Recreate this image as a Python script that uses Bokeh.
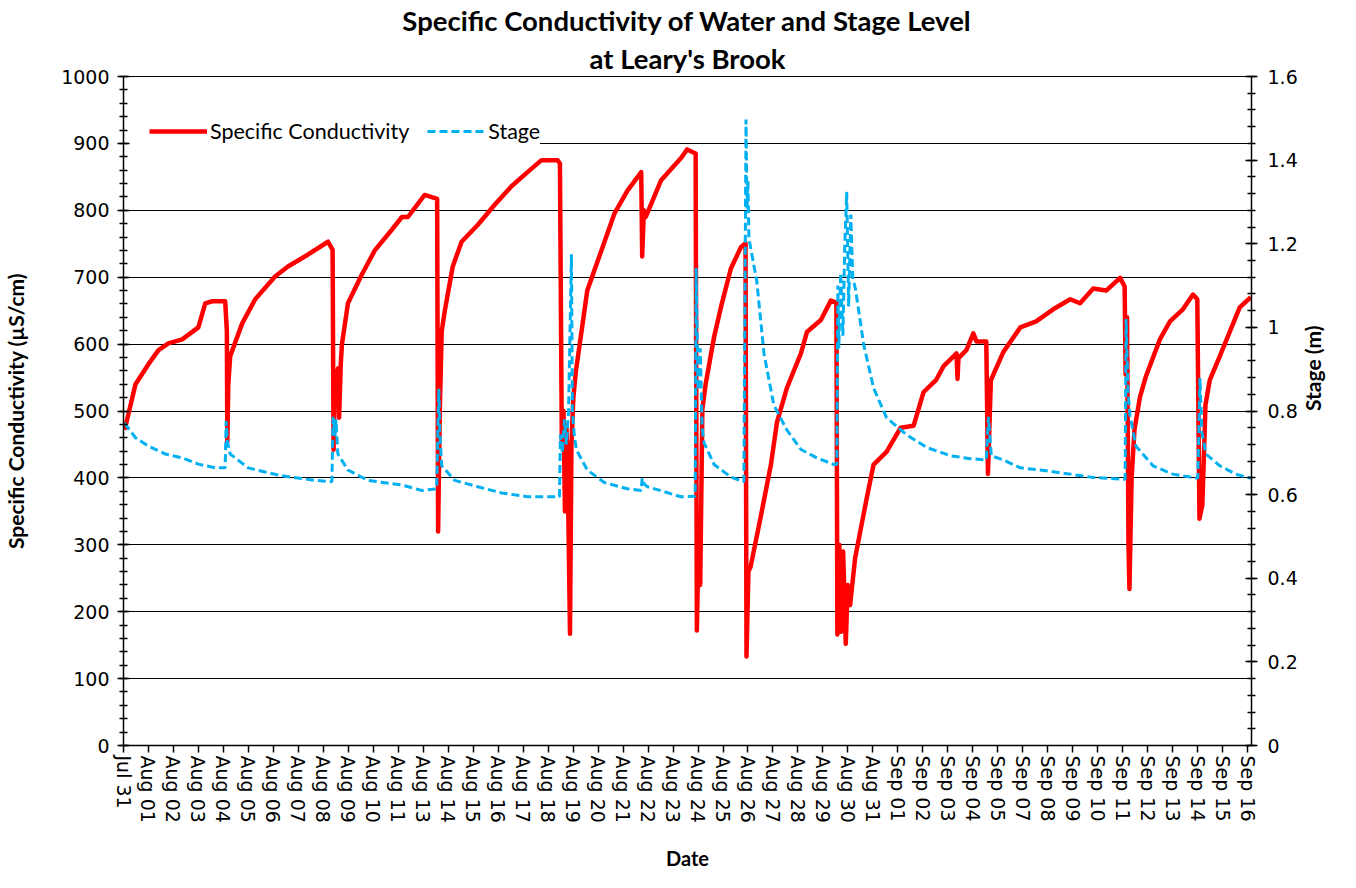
import math
from bokeh.plotting import figure
from bokeh.models import (Range1d, LinearAxis, FixedTicker, SingleIntervalTicker,
                          Legend, LegendItem, Title, BoxAnnotation)
from bokeh.embed import file_html
from bokeh.resources import INLINE

# ---- data: days since Jul 31 00:00 ----
cond_day = [0.57, 1.02, 1.56, 1.98, 2.39, 2.97, 3.64, 3.93, 4.22, 4.76, 4.83, 4.85, 4.89, 4.97,
            5.47, 6.01, 6.84, 7.38, 8.22, 9.05, 9.24, 9.28, 9.34, 9.40, 9.47, 9.51, 9.58, 9.63,
            9.88, 10.46, 11.00, 11.71, 12.13, 12.38, 13.08, 13.60, 13.64, 13.71, 13.75, 13.79,
            13.92, 14.25, 14.62, 15.29, 15.99, 16.70, 17.37, 17.95, 18.62, 18.72, 18.80, 18.87,
            18.93, 18.99, 19.05, 19.14, 19.20, 19.28, 19.38, 19.86, 20.45, 20.99, 21.53, 22.11,
            22.15, 22.22, 22.30, 22.94, 23.77, 24.02, 24.38, 24.43, 24.50, 24.57, 24.66, 24.80,
            25.15, 25.44, 25.85, 26.27, 26.46, 26.50, 26.58, 26.67, 27.10, 27.52, 27.77, 28.18,
            28.77, 29.02, 29.60, 30.02, 30.25, 30.29, 30.37, 30.45, 30.53, 30.64, 30.72, 30.82,
            31.03, 31.51, 31.80, 32.34, 32.93, 33.47, 33.88, 34.42, 34.72, 35.26, 35.30, 35.34,
            35.67, 35.96, 36.09, 36.50, 36.57, 36.69, 37.21, 37.92, 38.58, 39.29, 40.00, 40.41,
            40.96, 41.50, 42.08, 42.27, 42.31, 42.37, 42.43, 42.47, 42.56, 42.68, 42.91, 43.16,
            43.74, 44.16, 44.70, 45.12, 45.30, 45.39, 45.51, 45.64, 45.82, 46.24, 46.66, 47.07,
            47.53]
cond_value = [472, 540, 570, 591, 601, 607, 625, 661, 664, 664, 620, 454, 540, 582,
              631, 667, 701, 716, 734, 753, 741, 442, 560, 510, 564, 490, 570, 600,
              661, 704, 740, 771, 790, 790, 823, 817, 320, 500, 560, 619,
              650, 716, 753, 778, 808, 836, 857, 875, 875, 870, 450, 500,
              350, 480, 400, 167, 450, 520, 558, 680, 740, 795, 829, 857,
              731, 800, 790, 845, 878, 891, 885, 172, 300, 240, 503, 541,
              611, 656, 713, 745, 751, 133, 260, 267, 343, 420, 483, 534,
              586, 618, 636, 665, 662, 166, 300, 170, 290, 152, 240, 210,
              280, 369, 420, 439, 475, 478, 528, 547, 567, 586, 548, 579,
              591, 616, 604, 604, 406, 546, 588, 625, 634, 652, 667, 661,
              683, 680, 699, 686, 555, 640, 300, 234, 400, 472, 521, 552,
              607, 634, 652, 674, 667, 339, 360, 509, 546, 582, 619, 655,
              670]

stage_day = [0.56, 1.02, 1.56, 2.27, 2.97, 3.64, 4.35, 4.76, 4.80, 4.85, 4.97, 5.72, 6.43,
             7.13, 8.51, 9.21, 9.26, 9.34, 9.38, 9.46, 9.88, 10.71, 12.13, 12.96, 13.58, 13.67,
             13.71, 13.79, 14.33, 15.29, 16.29, 17.37, 18.70, 18.74, 18.82, 18.91, 18.99, 19.08,
             19.20, 19.24, 19.32, 19.41, 19.86, 20.57, 21.53, 22.11, 22.15, 22.24, 22.36, 23.77,
             24.36, 24.40, 24.48, 24.57, 24.65, 24.73, 25.15, 25.85, 26.39, 26.44, 26.48, 26.52,
             26.56, 26.60, 26.93, 27.23, 27.64, 28.18, 28.77, 29.43, 30.14, 30.27, 30.31, 30.35,
             30.43, 30.52, 30.60, 30.68, 30.76, 30.85, 30.93, 31.05, 31.39, 31.80, 32.34, 33.18,
             34.01, 35.01, 35.84, 36.50, 36.59, 36.71, 37.21, 37.92, 39.00, 40.00, 40.96, 42.08,
             42.29, 42.33, 42.41, 42.49, 42.74, 43.45, 44.28, 45.32, 45.41, 45.49, 45.66, 46.24,
             46.90, 47.53]
stage_value = [0.771, 0.736, 0.716, 0.697, 0.688, 0.673, 0.664, 0.664, 0.776, 0.728, 0.697, 0.664, 0.654,
               0.645, 0.634, 0.631, 0.786, 0.740, 0.780, 0.697, 0.659, 0.634, 0.623, 0.610, 0.614, 0.853,
               0.750, 0.669, 0.634, 0.619, 0.604, 0.595, 0.595, 0.744, 0.700, 0.780, 0.720, 0.800,
               1.175, 0.800, 0.740, 0.707, 0.659, 0.629, 0.614, 0.610, 0.639, 0.625, 0.619, 0.595,
               0.596, 1.142, 0.850, 0.950, 0.760, 0.724, 0.672, 0.642, 0.631, 1.100, 1.497, 1.284,
               1.350, 1.213, 1.110, 0.937, 0.814, 0.755, 0.708, 0.688, 0.672, 0.672, 1.100, 0.950,
               1.130, 0.980, 1.200, 1.324, 1.050, 1.270, 1.120, 1.090, 0.958, 0.855, 0.784, 0.743,
               0.713, 0.693, 0.686, 0.683, 0.786, 0.693, 0.683, 0.664, 0.657, 0.649, 0.641, 0.637,
               0.637, 1.020, 0.850, 0.790, 0.716, 0.669, 0.649, 0.639, 0.879, 0.750, 0.697, 0.669,
               0.649, 0.639]

date_labels = ["Jul 31", "Aug 01", "Aug 02", "Aug 03", "Aug 04", "Aug 05", "Aug 06", "Aug 07",
               "Aug 08", "Aug 09", "Aug 10", "Aug 11", "Aug 13", "Aug 14", "Aug 15", "Aug 16",
               "Aug 17", "Aug 18", "Aug 19", "Aug 20", "Aug 21", "Aug 22", "Aug 23", "Aug 24",
               "Aug 25", "Aug 26", "Aug 27", "Aug 28", "Aug 29", "Aug 30", "Aug 31", "Sep 01",
               "Sep 02", "Sep 03", "Sep 04", "Sep 05", "Sep 07", "Sep 08", "Sep 09", "Sep 10",
               "Sep 11", "Sep 12", "Sep 13", "Sep 14", "Sep 15", "Sep 16"]
first_tick_day = 0.52
tick_step_days = 1.0417
x_start, x_end = 0.52, 47.56

stage_ticks = [0, 0.2, 0.4, 0.6, 0.8, 1, 1.2, 1.4, 1.6]
stage_tick_labels = ["0", "0.2", "0.4", "0.6", "0.8", "1", "1.2", "1.4", "1.6"]

RED = "#FF0000"
BLUE = "#00B0F0"
TICK_FONT = "DejaVu Sans"
HEAD_FONT = "Lato"

p = figure(width=1340, height=872, x_range=Range1d(x_start, x_end), y_range=Range1d(0, 1000),
           output_backend="svg", toolbar_location=None,
           min_border_left=123, min_border_right=87, min_border_top=75, min_border_bottom=126)
p.extra_y_ranges = {"stage": Range1d(0, 1.6)}
p.background_fill_color = "white"
p.border_fill_color = "white"
p.outline_line_color = "black"
p.outline_line_width = 1

# titles
t2 = Title(text="at Leary's Brook", align="center", text_font=HEAD_FONT, text_font_style="bold",
           text_font_size="27.5px", standoff=3, text_color="black")
t1 = Title(text="Specific Conductivity of Water and Stage Level", align="center", text_font=HEAD_FONT,
           text_font_style="bold", text_font_size="27.5px", standoff=3, text_color="black")
p.add_layout(t2, "above")
p.add_layout(t1, "above")

# x axis
tick_pos = [round(first_tick_day + i * tick_step_days, 4) for i in range(len(date_labels))]
xa = p.xaxis[0]
xa.ticker = FixedTicker(ticks=tick_pos, minor_ticks=[])
xa.major_label_overrides = {t: lab for t, lab in zip(tick_pos, date_labels)}
xa.major_label_orientation = -math.pi / 2
xa.major_label_text_font = TICK_FONT
xa.major_label_text_font_size = "19px"
xa.major_label_text_color = "black"
xa.major_label_standoff = 3
xa.major_tick_in = 0
xa.major_tick_out = 7
xa.minor_tick_in = 0
xa.minor_tick_out = 0
xa.axis_line_width = 1.5
xa.major_tick_line_width = 1.5
xa.axis_label = "Date"
xa.axis_label_text_font = HEAD_FONT
xa.axis_label_text_font_style = "bold"
xa.axis_label_text_font_size = "20px"
xa.axis_label_text_color = "black"
xa.axis_label_standoff = 20

# left axis
ya = p.yaxis[0]
ya.ticker = SingleIntervalTicker(interval=100, num_minor_ticks=5)
ya.major_label_text_font = TICK_FONT
ya.major_label_text_font_size = "19px"
ya.major_label_text_color = "black"
ya.major_tick_in = 6
ya.major_tick_out = 6
ya.minor_tick_in = 4
ya.minor_tick_out = 4
ya.major_label_standoff = 8
ya.axis_line_width = 1.5
ya.major_tick_line_width = 1.5
ya.minor_tick_line_width = 1.5
ya.axis_label = "Specific Conductivity (µS/cm)"
ya.axis_label_text_font = HEAD_FONT
ya.axis_label_text_font_style = "bold"
ya.axis_label_text_font_size = "21px"
ya.axis_label_text_color = "black"
ya.axis_label_standoff = 30

# right axis
ra = LinearAxis(y_range_name="stage",
                ticker=FixedTicker(ticks=stage_ticks,
                                   minor_ticks=[round(0.04 * k, 2) for k in range(41)]))
ra.major_label_overrides = {t: lab for t, lab in zip(stage_ticks, stage_tick_labels)}
ra.major_label_text_font = TICK_FONT
ra.major_label_text_font_size = "19px"
ra.major_label_text_color = "black"
ra.major_tick_in = 6
ra.major_tick_out = 6
ra.minor_tick_in = 4
ra.minor_tick_out = 4
ra.major_label_standoff = 10
ra.axis_line_width = 1.5
ra.major_tick_line_width = 1.5
ra.minor_tick_line_width = 1.5
ra.axis_label = "Stage (m)"
ra.axis_label_text_font = HEAD_FONT
ra.axis_label_text_font_style = "bold"
ra.axis_label_text_font_size = "21px"
ra.axis_label_text_color = "black"
ra.axis_label_standoff = 12
ra.axis_label_orientation = math.pi / 2
p.add_layout(ra, "right")

# grid
p.xgrid.visible = False
p.ygrid.grid_line_color = "black"
p.ygrid.grid_line_width = 1
p.ygrid.grid_line_alpha = 1

# series
r_cond = p.line(cond_day, cond_value, line_color=RED, line_width=4.5, line_join="round")
r_stage = p.line(stage_day, stage_value, y_range_name="stage", line_color=BLUE, line_width=3,
                 line_dash="8 4")

# white legend panel continues to the left axis (hides grid line behind the legend)
p.add_layout(BoxAnnotation(left=x_start, right=x_start + 1.5, bottom=885, top=915,
                           fill_color="white", fill_alpha=1, line_color=None, level="underlay"))

legend = Legend(items=[LegendItem(label="Specific Conductivity", renderers=[r_cond]),
                       LegendItem(label="Stage", renderers=[r_stage])],
                orientation="horizontal", location=(26, 601), padding=16, spacing=18,
                glyph_width=58, glyph_height=20, label_standoff=3, margin=0,
                label_text_font=HEAD_FONT, label_text_font_size="21.5px",
                label_text_color="black",
                background_fill_color="white", background_fill_alpha=1,
                border_line_color=None)
p.add_layout(legend)

open("out.html", "w").write(file_html(p, INLINE))
